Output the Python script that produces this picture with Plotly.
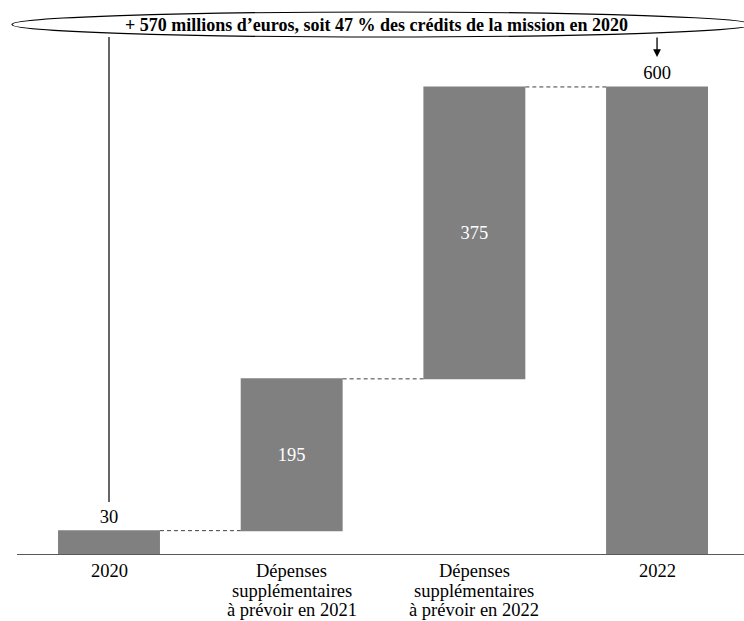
import plotly.graph_objects as go

# Waterfall steps (millions d'euros)
categories = ["2020",
              "Dépenses<br>supplémentaires<br>à prévoir en 2021",
              "Dépenses<br>supplémentaires<br>à prévoir en 2022",
              "2022"]
values = [30, 195, 375, 600]
measures = ["absolute", "relative", "relative", "total"]
text_positions = ["outside", "inside", "inside", "outside"]
headline = "+ 570 millions d’euros, soit 47 % des crédits de la mission en 2020"

BAR = "#808080"
FONT = "Liberation Serif"
FS = 18.5

W, H = 744, 621
M_L, M_R, M_T, M_B = 17, 0, 20, 67
Y_MAX = 686
X_RANGE = [-0.5036, 3.476]

x_pos = list(range(len(categories)))

fig = go.Figure(go.Waterfall(
    x=x_pos,
    y=values,
    measure=measures,
    text=[str(v) for v in values],
    textposition=text_positions,
    insidetextanchor="middle",
    insidetextfont=dict(family=FONT, size=FS, color="white"),
    outsidetextfont=dict(family=FONT, size=FS, color="black"),
    width=0.558,
    increasing=dict(marker=dict(color=BAR)),
    decreasing=dict(marker=dict(color=BAR)),
    totals=dict(marker=dict(color=BAR)),
    connector=dict(mode="between", line=dict(color="#404040", width=1, dash="4px,3px")),
    cliponaxis=False,
    hoverinfo="skip",
))

def px_to_paper_x(px):
    return (px - M_L) / (W - M_L - M_R)

def px_to_paper_y(py):
    return (H - M_B - py) / (H - M_T - M_B)

shapes = [
    # headline ellipse
    dict(type="circle", xref="paper", yref="paper",
         x0=px_to_paper_x(12), x1=px_to_paper_x(752),
         y0=px_to_paper_y(37), y1=px_to_paper_y(12),
         line=dict(color="black", width=1.2), fillcolor="white", layer="above"),
    # leader line from the ellipse down to the 2020 label
    dict(type="line", xref="x", yref="paper",
         x0=0, x1=0, y0=px_to_paper_y(502), y1=px_to_paper_y(37),
         line=dict(color="#333333", width=1.5)),
]

annotations = [
    dict(xref="paper", yref="paper", x=px_to_paper_x(376), y=px_to_paper_y(25),
         text="<b>" + headline + "</b>", showarrow=False,
         font=dict(family=FONT, size=18, color="black"),
         xanchor="center", yanchor="middle"),
    # arrow pointing to the 2022 total
    dict(xref="x", yref="paper", x=3, y=px_to_paper_y(57),
         axref="pixel", ayref="pixel", ax=0, ay=-21,
         text="", showarrow=True, arrowhead=2, arrowsize=1.2, arrowwidth=1.3,
         arrowcolor="black"),
]

# category labels under the axis, one line per annotation for tight line spacing
LINE_STEP = 19.5
FIRST_LINE_Y = 571
for xi, label in zip(x_pos, categories):
    for k, line in enumerate(label.split("<br>")):
        annotations.append(dict(
            xref="x", yref="paper", x=xi, y=px_to_paper_y(FIRST_LINE_Y + k * LINE_STEP),
            text=line, showarrow=False, xanchor="center", yanchor="middle",
            font=dict(family=FONT, size=FS, color="black")))

fig.update_layout(
    width=W, height=H,
    margin=dict(l=M_L, r=M_R, t=M_T, b=M_B),
    plot_bgcolor="white", paper_bgcolor="white",
    showlegend=False,
    shapes=shapes,
    annotations=annotations,
    font=dict(family=FONT, size=FS, color="black"),
    xaxis=dict(range=X_RANGE, tickvals=x_pos, showticklabels=False,
               showline=True, linecolor="#595959", linewidth=1.3,
               showgrid=False, zeroline=False, ticks=""),
    yaxis=dict(range=[0, Y_MAX], visible=False, showgrid=False, zeroline=False),
)

fig.write_html("out.html")
